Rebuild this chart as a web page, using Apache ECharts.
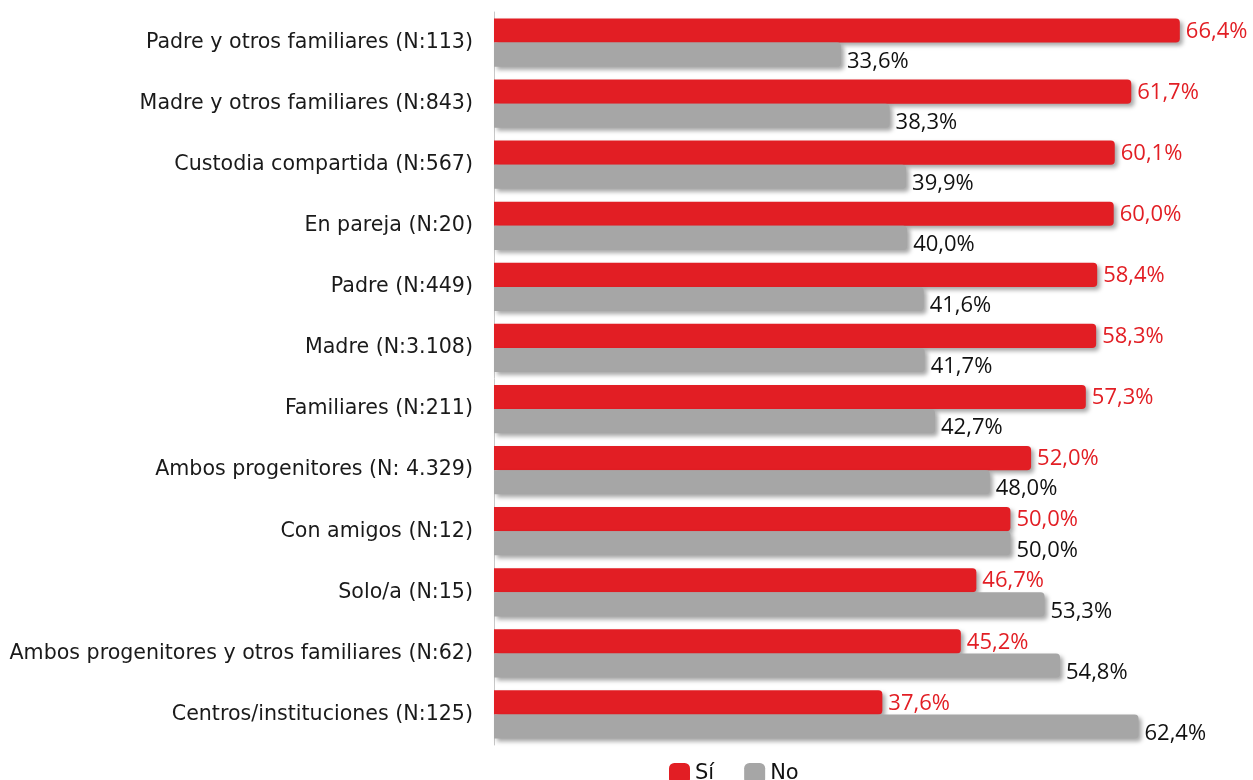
<!DOCTYPE html>
<html><head><meta charset="utf-8">
<script src="https://cdn.jsdelivr.net/npm/echarts@6/dist/echarts.min.js"></script>
<style>html,body{margin:0;padding:0;background:#fff}#c{width:1253px;height:780px}</style>
</head><body><div id="c"></div>
<script>
const categories = ["Padre y otros familiares (N:113)","Madre y otros familiares (N:843)","Custodia compartida (N:567)","En pareja (N:20)","Padre (N:449)","Madre (N:3.108)","Familiares (N:211)","Ambos progenitores (N: 4.329)","Con amigos (N:12)","Solo/a (N:15)","Ambos progenitores y otros familiares (N:62)","Centros/instituciones (N:125)"];
const si = [66.4,61.7,60.1,60.0,58.4,58.3,57.3,52.0,50.0,46.7,45.2,37.6];
const no = [33.6,38.3,39.9,40.0,41.6,41.7,42.7,48.0,50.0,53.3,54.8,62.4];
const seriesNames = ["Sí","No"];
const fmt = p => p.value.toFixed(1).replace('.', ',') + '%';
const shadow = {shadowColor:'rgba(0,0,0,0.35)',shadowBlur:4,shadowOffsetX:3,shadowOffsetY:3};
const chart = echarts.init(document.getElementById('c'));
chart.setOption({
  animation:false,
  grid:{left:494,right:36,top:12,bottom:35,containLabel:false},
  legend:{bottom:-9,left:664,itemWidth:21,itemHeight:21,itemGap:30,icon:'roundRect',
    textStyle:{fontFamily:'DejaVu Sans',fontSize:21,color:'#111'},data:seriesNames},
  xAxis:{type:'value',min:0,max:70,show:false},
  yAxis:{type:'category',data:categories,inverse:true,
    axisLine:{lineStyle:{color:'#c8c8c8',width:1}},axisTick:{show:false},
    axisLabel:{fontFamily:'DejaVu Sans',fontSize:20.6,color:'#1a1a1a',margin:21}},
  series:[
    {name:seriesNames[0],type:'bar',data:si,barGap:'0%',barCategoryGap:'21%',
     itemStyle:Object.assign({color:'#E21E24',borderRadius:[0,4,4,0]},shadow),
     label:{show:true,position:'right',distance:6,offset:[0,1],formatter:fmt,fontFamily:'Open Sans',fontSize:22,color:'#E21E24'}},
    {name:seriesNames[1],type:'bar',data:no,
     itemStyle:Object.assign({color:'#A6A6A6',borderRadius:[0,4,4,0]},shadow),
     label:{show:true,position:'right',distance:6,offset:[0,7],formatter:fmt,fontFamily:'Open Sans',fontSize:22,color:'#111'}}
  ]
});
</script></body></html>
